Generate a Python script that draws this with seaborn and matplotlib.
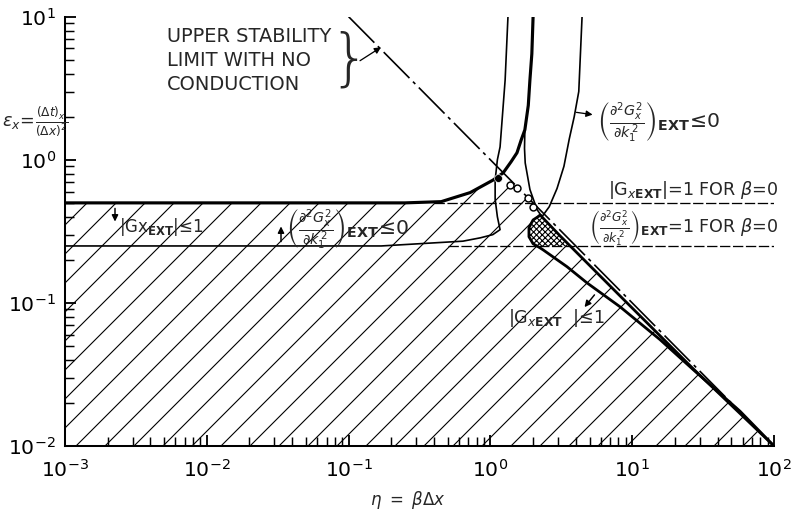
import numpy as np
import pandas as pd
import matplotlib
matplotlib.use("Agg")
import matplotlib.pyplot as plt
import seaborn as sns

# ---------------- data (eta = beta*dx, eps_x = dt/dx^2) ----------------
# |G_x,EXT| = 1 boundary (thick), horizontal at 0.5 then rising
B_ETA = [0.001, 0.25, 0.45, 0.72, 1.04, 1.23, 1.40, 1.54, 1.65, 1.75, 1.85, 1.90, 1.96, 2.0]
B_EPS = [0.5, 0.5, 0.51, 0.59, 0.72, 0.81, 0.97, 1.12, 1.38, 1.62, 2.4, 3.62, 5.5, 10.0]
# lower branch of the |G|=1 curve (thin)
E_ETA = [1.75, 1.74, 1.76, 1.90, 2.13, 2.31]
E_EPS = [1.62, 1.20, 0.95, 0.62, 0.45, 0.40]
# (d2G2/dk2)_EXT = 0 boundary (thin), horizontal at 0.25 then rising
A_ETA = [0.001, 0.17, 0.64, 0.85, 1.04, 1.17, 1.12, 1.08, 1.08, 1.12, 1.17, 1.27, 1.33]
A_EPS = [0.25, 0.25, 0.27, 0.285, 0.30, 0.325, 0.40, 0.53, 0.72, 1.0, 1.23, 3.6, 10.0]
# right curve (d2G2/dk2)_EXT <= 0 (thin)
C_ETA = [4.43, 4.2, 3.9, 3.6, 3.3, 2.95, 2.6, 2.31]
C_EPS = [10.0, 3.0, 2.0, 1.4, 0.9, 0.63, 0.47, 0.40]
# upper stability limit with no conduction (dash-dot)
DD_ETA = [0.1, 100.0]
DD_EPS = [10.0, 0.01]
# upper thick diagonal
U_ETA = [2.25, 3.09, 8.2, 26.8, 100.0]
U_EPS = [0.41, 0.295, 0.112, 0.0348, 0.01]
# lower thick diagonal (wraps round the cross-hatched lobe)
L_ETA = [2.25, 2.0, 1.87, 1.87, 2.0, 2.23, 2.35, 3.47, 4.8, 8.2, 15.7, 26.8, 57.6, 100.0]
L_EPS = [0.41, 0.38, 0.335, 0.29, 0.259, 0.243, 0.235, 0.179, 0.138, 0.094, 0.0554, 0.0343, 0.0175, 0.01]
# beta = 0 reference levels (dashed)
H1_ETA = [0.40, 100.0]; H1_EPS = [0.5, 0.5]
H2_ETA = [0.50, 100.0]; H2_EPS = [0.25, 0.25]
# stable (hatched) region outline
HATCH_ETA = [0.001, 0.001, 0.25, 0.45, 0.72, 1.04, 1.23, 2.25, 3.09, 8.2, 26.8, 100.0]
HATCH_EPS = [0.01, 0.5, 0.5, 0.51, 0.59, 0.72, 0.81, 0.41, 0.295, 0.112, 0.0348, 0.01]
# cross-hatched lobe
BLOB_ETA = [2.25, 2.0, 1.87, 1.87, 2.0, 2.23, 3.5, 3.09, 2.25]
BLOB_EPS = [0.41, 0.38, 0.335, 0.29, 0.259, 0.245, 0.25, 0.295, 0.41]
# marked points
OPEN_ETA = [1.37, 1.54, 1.84, 2.0]
OPEN_EPS = [0.67, 0.64, 0.54, 0.47]
FILL_ETA = [1.13]
FILL_EPS = [0.75]

# ---------------- figure ----------------
DPI = 87
K = 133 / DPI          # sizes below are tuned for 133 dpi; rescale to DPI

sns.set_theme(style="ticks")
plt.rcParams["font.family"] = ["DejaVu Sans"]
plt.rcParams["mathtext.fontset"] = "dejavusans"
plt.rcParams["hatch.linewidth"] = 0.6 * K
plt.rcParams["hatch.color"] = "black"

W, H = 798, 510
fig = plt.figure(figsize=(W / DPI, H / DPI), dpi=DPI)
ax = fig.add_axes([65 / W, 1 - 446 / H, (774 - 65) / W, (446 - 16.7) / H])
ax.set_xscale("log")
ax.set_yscale("log")
ax.set_xlim(1e-3, 1e2)
ax.set_ylim(1e-2, 1e1)

# hatched regions
ax.fill(HATCH_ETA, HATCH_EPS, facecolor="none", edgecolor="black", linewidth=0, hatch="/")
ax.fill(BLOB_ETA, BLOB_EPS, facecolor="white", edgecolor="black", linewidth=0, hatch="xxxxx")

def line(xs, ys, lw, ls="-"):
    sns.lineplot(x=xs, y=ys, sort=False, estimator=None, color="black",
                 linewidth=lw * K, linestyle=ls, ax=ax)

line(H1_ETA, H1_EPS, 0.7, (0, (8, 2)))
line(H2_ETA, H2_EPS, 0.7, (0, (8, 2)))
line(DD_ETA, DD_EPS, 0.9, (0, (22, 3, 2, 3)))
line(A_ETA, A_EPS, 0.9)
line(C_ETA, C_EPS, 0.9)
line(E_ETA, E_EPS, 0.9)
line(B_ETA, B_EPS, 1.7)
line(U_ETA, U_EPS, 1.5)
line(L_ETA, L_EPS, 1.5)

sns.scatterplot(x=OPEN_ETA, y=OPEN_EPS, s=14 * K * K, facecolor="white", edgecolor="black",
                linewidth=0.8 * K, ax=ax, zorder=5)
sns.scatterplot(x=FILL_ETA, y=FILL_EPS, s=18 * K * K, color="black", ax=ax, zorder=5)

# axes styling
sns.despine(ax=ax)
for sp in ("left", "bottom"):
    ax.spines[sp].set_linewidth(1.1 * K)
    ax.spines[sp].set_color("black")
ax.tick_params(which="both", direction="in", colors="black")
ax.tick_params(which="major", length=6 * K, width=1.0 * K, labelsize=11 * K)
ax.tick_params(which="minor", length=5 * K, width=0.8 * K)
ax.tick_params(axis="x", which="major", pad=7 * K)
ax.tick_params(axis="y", which="major", pad=5 * K)
ax.grid(False)

# ---------------- annotations ----------------
def fx(px): return px / W
def fy(py): return 1 - py / H

def arrow(x0, y0, x1, y1, lw=0.8):
    ax.annotate("", xy=(fx(x1), fy(y1)), xycoords="figure fraction",
                xytext=(fx(x0), fy(y0)), textcoords="figure fraction",
                arrowprops=dict(arrowstyle="-|>", color="black", lw=lw * K,
                                mutation_scale=7 * K))

FRAC = r"\left(\frac{\partial^2 G_x^2}{\partial k_1^{\,2}}\right)_{\mathbf{EXT}}"

fig.text(fx(167), fy(27), "UPPER STABILITY\nLIMIT WITH NO\nCONDUCTION", fontsize=10.5 * K,
         ha="left", va="top", linespacing=1.33)
fig.text(fx(349), fy(60), "}", fontsize=34 * K, ha="center", va="center", fontweight="light")
arrow(358, 62, 383, 46, 0.7)

fig.text(fx(35), fy(122), r"$\epsilon_x\!=\!\frac{(\Delta t)_x}{(\Delta x)^2}$", fontsize=9.5 * K,
         ha="center", va="center")
fig.text(fx(408), fy(500), r"$\eta\ =\ \beta\Delta x$", fontsize=9 * K, ha="center", va="center")

# |Gx EXT| <= 1 (left band)
arrow(115, 206, 115, 224)
fig.text(fx(119), fy(227), r"$|\mathrm{Gx}_{\mathbf{EXT}}|$≤1", fontsize=9 * K,
         ha="left", va="center")

# arrow + (d2G2/dk2)_EXT <= 0 (middle band)
arrow(281, 244, 281, 224)
fig.text(fx(286), fy(230), "$" + FRAC + r"\!\leq\!0$", fontsize=11 * K, ha="left", va="center")

# right curve label
arrow(574, 112, 595, 115, 0.7)
fig.text(fx(597), fy(123), "$" + FRAC + r"\!\leq\!0$", fontsize=11 * K, ha="left", va="center")

# beta = 0 labels
fig.text(fx(778), fy(190), r"$|\mathrm{G}_{x\mathbf{EXT}}|$=1 FOR $\beta$=0", fontsize=9.5 * K,
         ha="right", va="center")
fig.text(fx(778), fy(229), "$" + FRAC + r"$=1 FOR $\beta$=0", fontsize=9.5 * K,
         ha="right", va="center")

# lower right |G| <= 1
arrow(596, 293, 583, 309)
fig.text(fx(556), fy(318), r"$|\mathrm{G}_{x\mathbf{EXT}}$  |≤1", fontsize=9.5 * K,
         ha="center", va="center")

fig.savefig("out.png", dpi=DPI, facecolor="white")
